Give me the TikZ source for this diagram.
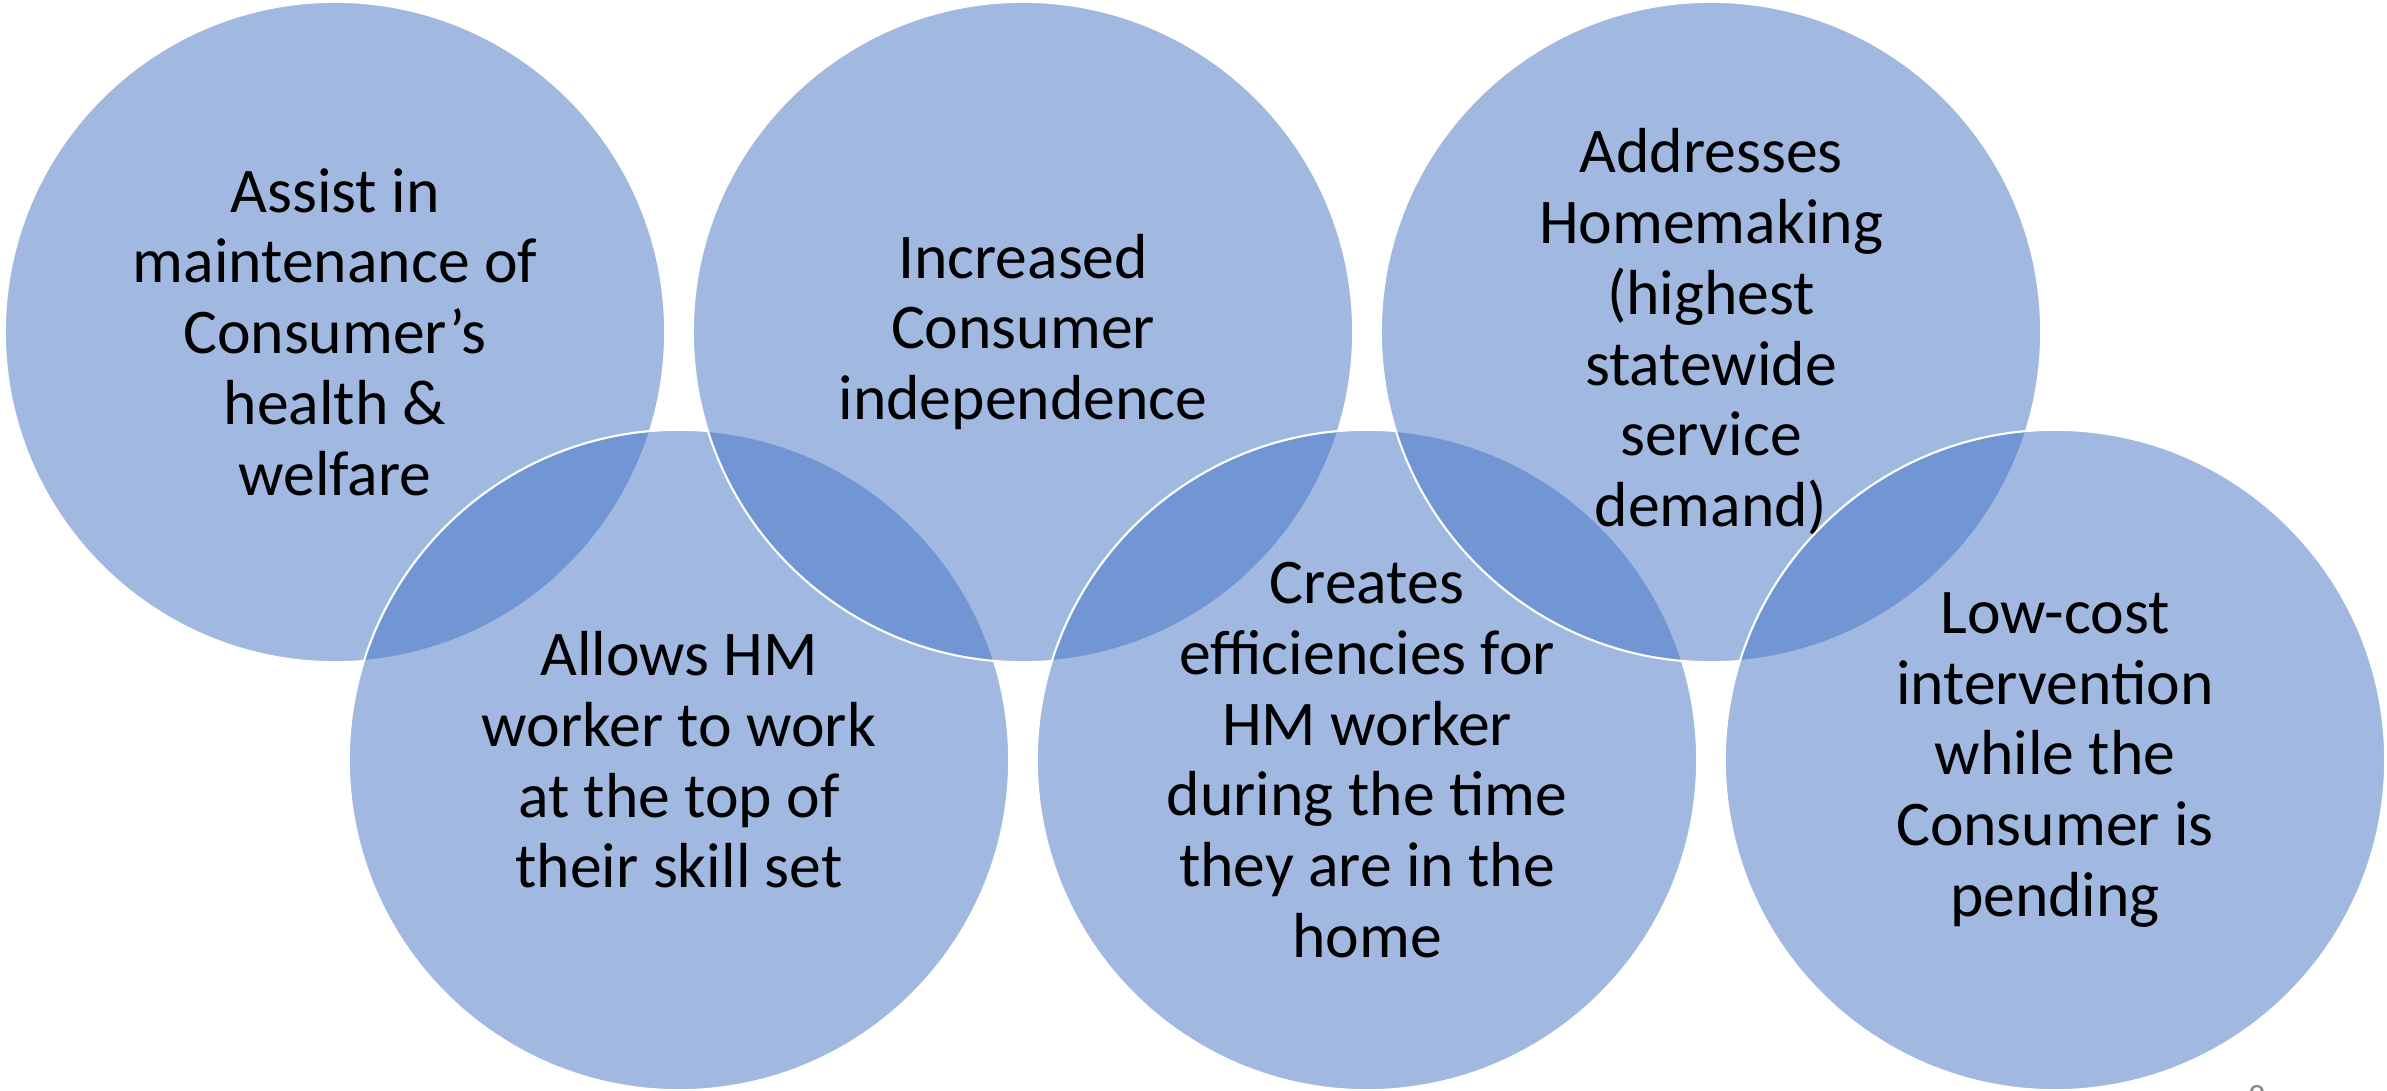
\documentclass[tikz,border=0pt]{standalone}
\usepackage{fontspec}
\setmainfont{Carlito}

\definecolor{hmblue}{HTML}{4472C4}
\definecolor{pagegray}{HTML}{898989}

\begin{document}
\begin{tikzpicture}[x=0.01cm, y=-0.01cm,
  bubble/.style={circle, minimum size=6.6cm, inner sep=0pt,
    fill=hmblue, fill opacity=0.5, text opacity=1,
    draw=white, draw opacity=1, line width=0.6pt,
    align=center, font=\fontsize{18.1}{20.1}\selectfont},
  pagenum/.style={inner sep=0pt, text=pagegray, font=\fontsize{10}{12}\selectfont}]

\newcommand\STEPX{688}
\newcommand\LEFTX{335}
\newcommand\TOPY{332}
\newcommand\BOTY{760}

\useasboundingbox (0,0) rectangle (2387,1091);

% zigzag order: top, bottom, top, ... so each outline sits on its left neighbour
\node[bubble] (health) at (\LEFTX+0*\STEPX, \TOPY)
  {Assist in\\maintenance of\\Consumer’s\\health \&\\welfare}; % 1
\node[bubble] (skill) at (\LEFTX+0.5*\STEPX, \BOTY)
  {Allows HM\\worker to work\\at the top of\\their skill set}; % 4
\node[bubble] (indep) at (\LEFTX+1*\STEPX, \TOPY)
  {Increased\\Consumer\\independence}; % 2
\node[bubble] (effic) at (\LEFTX+1.5*\STEPX, \BOTY)
  {Creates\\efficiencies for\\HM worker\\during the time\\they are in the\\home}; % 5
\node[bubble] (homemk) at (\LEFTX+2*\STEPX, \TOPY)
  {Addresses\\Homemaking\\(highest\\statewide\\service\\demand)}; % 3
\node[bubble] (lowcost) at (\LEFTX+2.5*\STEPX, \BOTY)
  {Low-cost\\intervention\\while the\\Consumer is\\pending}; % 6

\node[pagenum, anchor=north] (pageno) at (2257,1085) {8};

\end{tikzpicture}
\end{document}
